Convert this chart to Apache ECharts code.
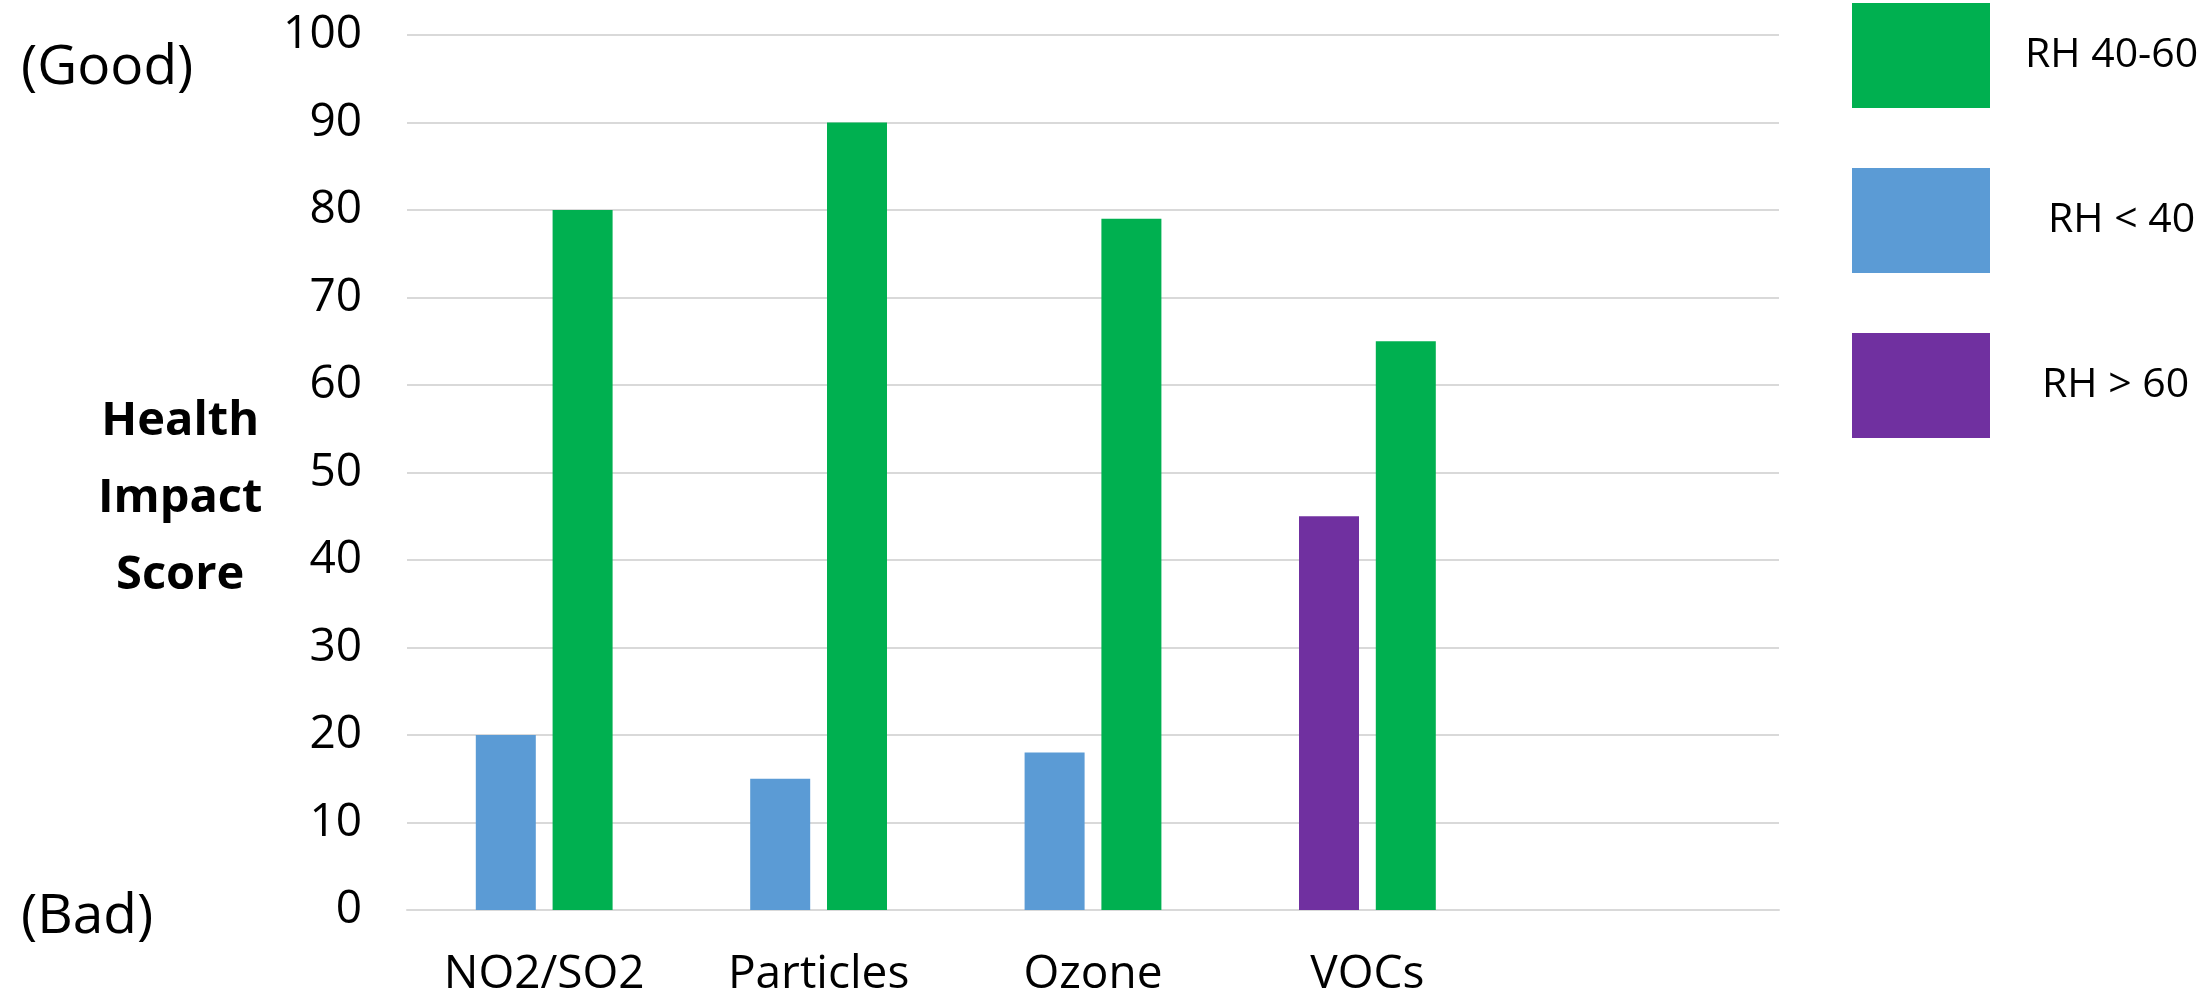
<!DOCTYPE html>
<html>
<head>
<meta charset="utf-8">
<script src="https://cdn.jsdelivr.net/npm/echarts@6/dist/echarts.min.js"></script>
<style>
html,body{margin:0;padding:0;background:#fff;}
#chart{width:2202px;height:1004px;}
</style>
</head>
<body>
<div id="chart"></div>
<script>
var categories = ['NO2/SO2', 'Particles', 'Ozone', 'VOCs', ''];
var rhLow = [20, 15, 18, '-', '-'];
var rhHigh = ['-', '-', '-', 45, '-'];
var rhMid = [80, 90, 79, 65, '-'];
var seriesNames = ['RH 40-60', 'RH < 40', 'RH > 60'];
var yTicks = { min: 0, max: 100, interval: 10 };

var FONT = '"Open Sans", "DejaVu Sans", sans-serif';
var chart = echarts.init(document.getElementById('chart'));
chart.setOption({
  animation: false,
  backgroundColor: '#ffffff',
  grid: { left: 407, right: 423, top: 35, bottom: 94, containLabel: false },
  legend: {
    orient: 'vertical',
    left: 1852,
    top: 3,
    padding: 0,
    itemWidth: 138,
    itemHeight: 105,
    itemGap: 60,
    icon: 'rect',
    selectedMode: false,
    textStyle: { fontFamily: FONT, fontSize: 41, color: '#000' },
    data: [
      { name: seriesNames[0], textStyle: { padding: [0, 0, 14, 30] } },
      { name: seriesNames[1], textStyle: { padding: [0, 0, 20, 53] } },
      { name: seriesNames[2], textStyle: { padding: [0, 0, 8, 47] } }
    ]
  },
  xAxis: {
    type: 'category',
    data: categories,
    axisLine: { show: true, lineStyle: { color: '#D9D9D9', width: 2 } },
    axisTick: { show: false },
    axisLabel: { fontFamily: FONT, fontSize: 46, color: '#000', margin: 42 }
  },
  yAxis: {
    type: 'value',
    min: yTicks.min,
    max: yTicks.max,
    interval: yTicks.interval,
    axisLine: { show: false },
    axisTick: { show: false },
    splitLine: { lineStyle: { color: '#D9D9D9', width: 2 } },
    axisLabel: { fontFamily: FONT, fontSize: 46, color: '#000', margin: 45 }
  },
  graphic: [
    { type: 'text', left: 21, top: 41, style: { text: '(Good)', font: '55px ' + FONT, fill: '#000' } },
    { type: 'text', left: 21, top: 890, style: { text: '(Bad)', font: '55px ' + FONT, fill: '#000' } },
    { type: 'text', left: 98, top: 383, style: { text: 'Health\nImpact\nScore', font: 'bold 47px ' + FONT, fill: '#000', textAlign: 'center', lineHeight: 77 } }
  ],
  series: [
    { name: seriesNames[1], type: 'bar', stack: 'left', data: rhLow, barWidth: 60, barGap: '28%', itemStyle: { color: '#5B9BD5' } },
    { name: seriesNames[2], type: 'bar', stack: 'left', data: rhHigh, barWidth: 60, barGap: '28%', itemStyle: { color: '#7030A0' } },
    { name: seriesNames[0], type: 'bar', data: rhMid, barWidth: 60, barGap: '28%', itemStyle: { color: '#00B050' } }
  ]
});
</script>
</body>
</html>
